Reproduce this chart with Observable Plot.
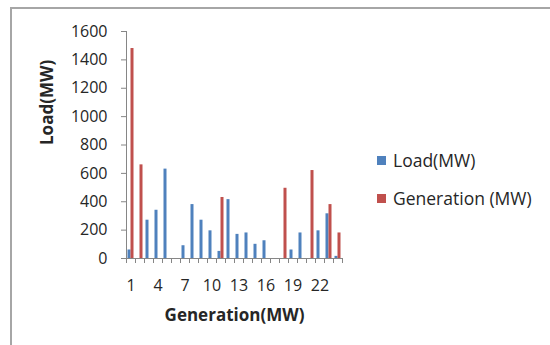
<!DOCTYPE html>
<html>
<head>
<meta charset="utf-8">
<script src="https://cdn.jsdelivr.net/npm/d3@7"></script>
<script src="https://cdn.jsdelivr.net/npm/@observablehq/plot@0.6"></script>
<style>
  html, body { margin: 0; padding: 0; background: #fff; }
  #chart { position: relative; width: 550px; height: 345px; overflow: hidden; font-family: "Open Sans", sans-serif; }
  #chart svg { position: absolute; left: 0; top: 0; }
  .outline { position: absolute; left: 10px; top: 7px; width: 700px; height: 500px; border: 2px solid #a6a6a6; box-sizing: border-box; }
  .legend { position: absolute; left: 377px; font-size: 17.5px; color: #262626; }
  .legend div { display: flex; align-items: center; height: 24px; }
  .legend span.sw { display: inline-block; width: 9px; height: 9px; margin-right: 7px; }
</style>
</head>
<body>
<div id="chart"><div class="outline"></div></div>
<script>
// Bus numbers 1..24
const buses = d3.range(1, 25);
// Load per bus (MW)
const load = [60, 0, 270, 340, 630, 0, 90, 380, 270, 195, 50, 415, 170, 180, 100, 125, 0, 0, 60, 180, 0, 195, 315, 15];
// Generation per bus (MW)
const generation = [1480, 660, 0, 0, 0, 0, 0, 0, 0, 0, 430, 0, 0, 0, 0, 0, 0, 495, 0, 0, 620, 0, 380, 180];
const xTickLabels = [1, 4, 7, 10, 13, 16, 19, 22];
const yTicks = [0, 200, 400, 600, 800, 1000, 1200, 1400, 1600];
const seriesNames = ["Load(MW)", "Generation (MW)"];
const seriesColors = ["#4F81BD", "#C0504D"];

const rows = buses.map((b, i) => ({bus: b, load: load[i], gen: generation[i]}));

const W = 550, H = 345;
const mL = 126, mR = 208, mT = 31, mB = 87;
const step = (W - mL - mR) / buses.length;
const barW = step / 3;          // two bars plus a 100% gap per category
const axisGray = "#868686";
const textColor = "#262626";

const chart = Plot.plot({
  width: W,
  height: H,
  marginLeft: mL,
  marginRight: mR,
  marginTop: mT,
  marginBottom: mB,
  style: {fontFamily: "Open Sans, sans-serif", color: textColor, background: "transparent"},
  x: {type: "band", domain: buses, paddingInner: 0, paddingOuter: 0, axis: null},
  y: {domain: [0, 1600], axis: null},
  marks: [
    Plot.barY(rows, {x: "bus", y: "load", fill: seriesColors[0], insetLeft: barW / 2, insetRight: barW * 1.5}),
    Plot.barY(rows, {x: "bus", y: "gen", fill: seriesColors[1], insetLeft: barW * 1.5, insetRight: barW / 2}),
    Plot.frame({anchor: "left", stroke: axisGray}),
    Plot.ruleY([0], {stroke: axisGray}),
    Plot.axisY(yTicks, {tickSize: 5, tickPadding: 14, tickFormat: d3.format("d"), stroke: axisGray, fontSize: 16, fill: textColor, label: null}),
    // category boundary tick marks
    Plot.axisX(buses, {tickSize: 5, tickFormat: () => "", dx: -step / 2, stroke: axisGray, label: null}),
    Plot.axisX([buses[buses.length - 1]], {tickSize: 5, tickFormat: () => "", dx: step / 2, stroke: axisGray, label: null}),
    Plot.axisX(xTickLabels, {tickSize: 0, tickPadding: 21, fontSize: 16, fill: textColor, label: null}),
    Plot.text(["Generation(MW)"], {frameAnchor: "bottom", dy: 62, fontSize: 17, fontWeight: "bold", fill: textColor}),
    Plot.text(["Load(MW)"], {frameAnchor: "left", dx: -79, rotate: -90, fontSize: 17, fontWeight: "bold", fill: textColor})
  ]
});
document.getElementById("chart").appendChild(chart);

// legend
const legend = document.createElement("div");
legend.className = "legend";
legend.style.top = "148px";
seriesNames.forEach((name, i) => {
  const row = document.createElement("div");
  if (i > 0) row.style.marginTop = "14px";
  const sw = document.createElement("span");
  sw.className = "sw";
  sw.style.background = seriesColors[i];
  row.appendChild(sw);
  row.appendChild(document.createTextNode(name));
  legend.appendChild(row);
});
document.getElementById("chart").appendChild(legend);
</script>
</body>
</html>
